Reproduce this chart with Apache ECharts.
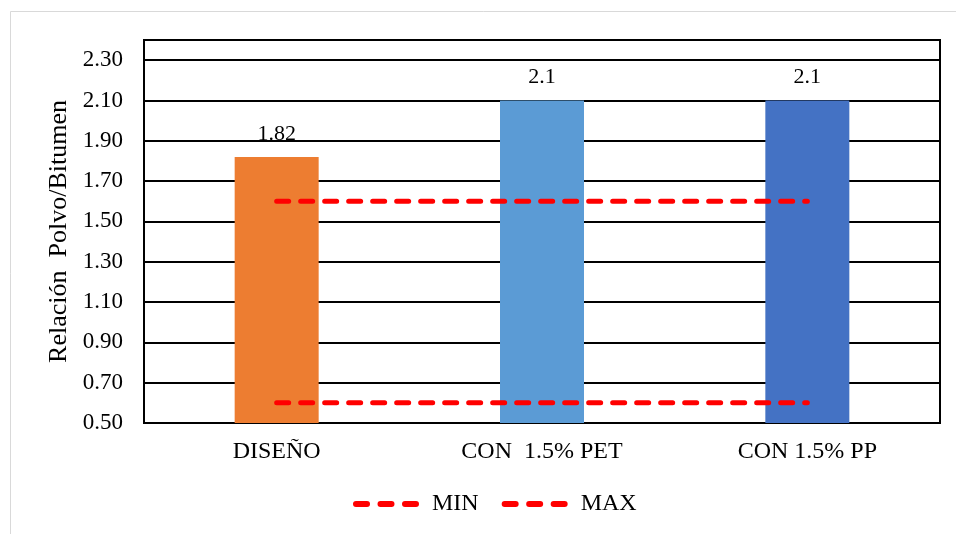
<!DOCTYPE html>
<html>
<head>
<meta charset="utf-8">
<script src="https://cdn.jsdelivr.net/npm/echarts@6/dist/echarts.min.js"></script>
<style>
  html, body { margin: 0; padding: 0; background: #fff; }
  #chart { width: 956px; height: 534px; }
</style>
</head>
<body>
<div id="chart"></div>
<script>
// Mezclas evaluadas
const categories = ['DISEÑO', 'CON  1.5% PET', 'CON 1.5% PP'];
// Relación polvo/bitumen de cada mezcla
const ratioValues = [1.82, 2.1, 2.1];
const barColors = ['#ED7D31', '#5B9BD5', '#4472C4'];
// Límites de especificación
const minLimit = [0.6, 0.6, 0.6];
const maxLimit = [1.6, 1.6, 1.6];

const FONT = '"Liberation Serif", "Times New Roman", serif';
const chart = echarts.init(document.getElementById('chart'), null, { renderer: 'canvas' });

const limitLine = {
  color: '#FF0000',
  width: 5,
  type: [12, 12],
  cap: 'round'
};

// three rounded dashes for the legend key
const dashIcon = 'path://' +
  'M3,0h11a3,3 0 0 1 0,6h-11a3,3 0 0 1 0,-6z' +
  'M27.5,0h11a3,3 0 0 1 0,6h-11a3,3 0 0 1 0,-6z' +
  'M52,0h11a3,3 0 0 1 0,6h-11a3,3 0 0 1 0,-6z';

chart.setOption({
  animation: false,
  backgroundColor: '#fff',
  textStyle: { fontFamily: FONT, color: '#000' },
  graphic: [{
    type: 'rect',
    shape: { x: 10.5, y: 11.5, width: 960, height: 540 },
    style: { fill: 'none', stroke: '#D9D9D9', lineWidth: 1 },
    silent: true,
    z: -10
  }],
  grid: { left: 144, right: 16, top: 40, bottom: 111, show: true, borderColor: '#000', borderWidth: 2 },
  legend: {
    top: 487,
    left: 348,
    itemWidth: 66,
    itemHeight: 6,
    itemGap: 23,
    textStyle: { fontFamily: FONT, fontSize: 24, color: '#000', padding: [0, 0, 0, 8] },
    data: [
      { name: 'MIN', icon: dashIcon },
      { name: 'MAX', icon: dashIcon }
    ]
  },
  xAxis: {
    type: 'category',
    data: categories,
    axisLine: { show: true, lineStyle: { color: '#000', width: 2 } },
    axisTick: { show: false },
    axisLabel: { fontFamily: FONT, fontSize: 24, color: '#000', margin: 17 }
  },
  yAxis: {
    type: 'value',
    min: 0.5,
    max: 2.4,
    interval: 0.2,
    name: 'Relación  Polvo/Bitumen',
    nameLocation: 'middle',
    nameGap: 72,
    nameTextStyle: { fontFamily: FONT, fontSize: 26, color: '#000' },
    axisLine: { show: true, lineStyle: { color: '#000', width: 2 } },
    axisTick: { show: false },
    axisLabel: {
      fontFamily: FONT, fontSize: 23, color: '#000', margin: 21,
      showMaxLabel: false,
      formatter: v => v.toFixed(2)
    },
    splitLine: { show: true, lineStyle: { color: '#000', width: 2 } }
  },
  series: [
    {
      type: 'bar',
      name: 'Relación',
      barWidth: 84,
      data: ratioValues.map((v, i) => ({ value: v, itemStyle: { color: barColors[i] } })),
      label: {
        show: true,
        position: 'top',
        distance: 12,
        fontFamily: FONT,
        fontSize: 22,
        color: '#000',
        formatter: p => String(p.value)
      },
      z: 2
    },
    {
      type: 'line',
      name: 'MIN',
      data: minLimit,
      symbol: 'none',
      lineStyle: limitLine,
      itemStyle: { color: '#FF0000' },
      z: 3
    },
    {
      type: 'line',
      name: 'MAX',
      data: maxLimit,
      symbol: 'none',
      lineStyle: limitLine,
      itemStyle: { color: '#FF0000' },
      z: 3
    }
  ]
});
</script>
</body>
</html>
